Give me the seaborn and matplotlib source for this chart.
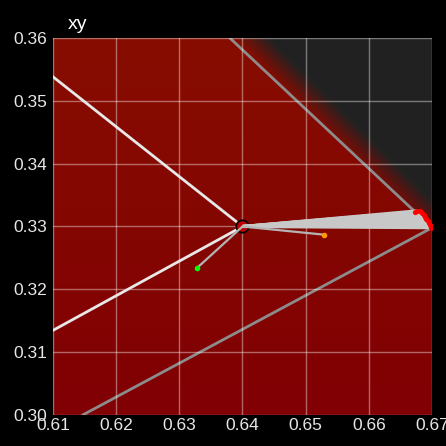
import numpy as np
import matplotlib
matplotlib.use("Agg")
import matplotlib.pyplot as plt
import seaborn as sns

# chart values
white_point = (0.640, 0.330)
srgb_edges_x = [[0.640, 0.300], [0.640, 0.150]]
srgb_edges_y = [[0.330, 0.600], [0.330, 0.060]]
wide_gamut_x = [0.6380, 0.6700, 0.6147]
wide_gamut_y = [0.3600, 0.3298, 0.3000]
locus_x = [0.6380, 0.6705]
locus_y = [0.3615, 0.3290]
green_pt = (0.6328, 0.3234)
orange_pt = (0.6529, 0.3287)
red_arc_x = [0.6673, 0.6677, 0.6681, 0.6684, 0.6687, 0.6689, 0.6691, 0.6693,
             0.6695, 0.6697, 0.6698, 0.6699]
red_arc_y = [0.3323, 0.3325, 0.3324, 0.3321, 0.3318, 0.3315, 0.3312, 0.3309,
             0.3306, 0.3303, 0.3300, 0.3298]
xticks = [0.61, 0.62, 0.63, 0.64, 0.65, 0.66, 0.67]
yticks = [0.30, 0.31, 0.32, 0.33, 0.34, 0.35, 0.36]

sns.set_theme(style="dark")
plt.rcParams['font.family'] = ['Liberation Sans', 'DejaVu Sans']

fig = plt.figure(figsize=(4.46, 4.46), dpi=100, facecolor="black")
ax = fig.add_axes([53 / 446, 31 / 446, 379 / 446, 377 / 446])
ax.set_facecolor("#222222")

# background: red inside the locus, fading to dark gray outside
gx = np.linspace(0.61, 0.67, 400)
gy = np.linspace(0.36, 0.30, 400)
X, Y = np.meshgrid(gx, gy)
x0, y0 = locus_x[0], locus_y[0]
dx, dy = locus_x[1] - x0, locus_y[1] - y0
n = np.hypot(dx, dy)
d = -((X - x0) * dy - (Y - y0) * dx) / n   # positive = outside
t = np.clip(d / 0.004 + 0.15, 0, 1)[..., None]
top = np.array([0.530, 0.050, 0.0])
bot = np.array([0.505, 0.0, 0.015])
f = ((Y - 0.30) / 0.06)[..., None]
red = bot + (top - bot) * f
gray = np.array([0.133, 0.133, 0.133])
img = red * (1 - t) + gray * t
ax.imshow(img, extent=[0.61, 0.67, 0.30, 0.36], aspect="auto", zorder=0,
          interpolation="bilinear")

ax.set_xlim(0.61, 0.67)
ax.set_ylim(0.30, 0.36)
ax.set_xticks(xticks)
ax.set_yticks(yticks)
ax.set_xticklabels([f"{v:.2f}" for v in xticks])
ax.set_yticklabels([f"{v:.2f}" for v in yticks])
ax.grid(True, color="white", alpha=0.4, linewidth=1.0, zorder=1)
ax.set_axisbelow(False)
for s in ax.spines.values():
    s.set_visible(False)
ax.tick_params(colors="#e6e6e6", labelsize=12.5, length=3, width=1,
               direction="out", pad=1)
ax.tick_params(axis="x", direction="inout", length=4, pad=0)

# wide gamut edges (gray)
ax.plot(wide_gamut_x, wide_gamut_y, color="#8c8c8c", lw=2, zorder=2)

# sRGB triangle edges (white)
for ex, ey in zip(srgb_edges_x, srgb_edges_y):
    ax.plot(ex, ey, color="#e8e8e8", lw=2, zorder=3)

# white point marker
ax.scatter([white_point[0]], [white_point[1]], s=80, color="#c00000",
           edgecolor="black", linewidth=1.2, zorder=3)

# fan of lines from white point
for px, py in zip(red_arc_x, red_arc_y):
    ax.plot([white_point[0], px], [white_point[1], py], color="#c8c8c8",
            lw=2.2, zorder=4, solid_capstyle="butt")
for p in (green_pt, orange_pt):
    ax.plot([white_point[0], p[0]], [white_point[1], p[1]], color="#b4b4b4",
            lw=1.6, zorder=4)

sns.scatterplot(x=red_arc_x, y=red_arc_y, color="#ff0000", s=14,
                linewidth=0, ax=ax, zorder=5)
sns.scatterplot(x=[green_pt[0]], y=[green_pt[1]], color="#00ff00", s=16,
                linewidth=0, ax=ax, zorder=5)
sns.scatterplot(x=[orange_pt[0]], y=[orange_pt[1]], color="#ff9900", s=16,
                linewidth=0, ax=ax, zorder=5)

ax.text(0.04, 1.024, "xy", transform=ax.transAxes, color="white",
        fontsize=14, va="baseline", ha="left")

fig.savefig("out.png", dpi=100, facecolor="black")
